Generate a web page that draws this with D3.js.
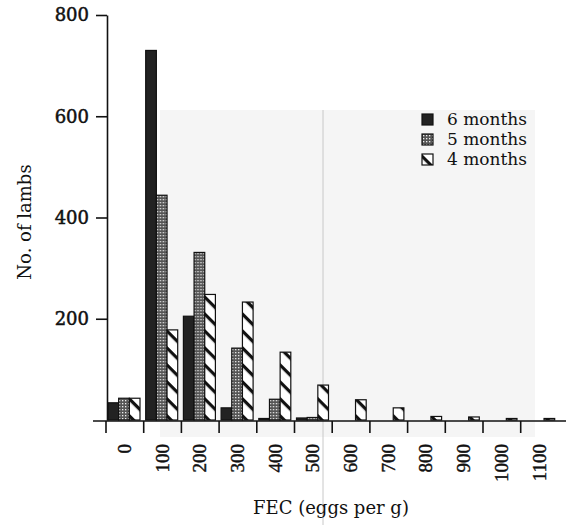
<!DOCTYPE html>
<html>
<head>
<meta charset="utf-8">
<script src="https://cdn.jsdelivr.net/npm/d3@7"></script>
<style>
  body { margin: 0; background: #fff; }
  text { font-family: "DejaVu Serif", serif; fill: #111; }
</style>
</head>
<body>
<div class="visual-container"></div>
<script>
/*************** DATA ***************/
// FEC classes (eggs per g) on the x axis
const fecClasses = ['0','100','200','300','400','500','600','700','800','900','1000','1100'];
const seriesNames = ['6 months', '5 months', '4 months'];
// number of lambs per FEC class, one array per age
const lambs6 = [34, 730, 205, 24, 3, 4, 0, 0, 0, 0, 0, 0];
const lambs5 = [43, 444, 331, 142, 41, 5, 0, 0, 0, 0, 0, 0];
const lambs4 = [43, 178, 248, 233, 134, 69, 40, 24, 7, 6, 3, 3];
const yTicks = [200, 400, 600, 800];

const width = 578;
const height = 525;

const svg = d3.select('.visual-container')
  .append('svg')
  .attr('width', width)
  .attr('height', height);

// patterns for the bar fills
const defs = svg.append('defs');

const checker = defs.append('pattern')
  .attr('id', 'checker')
  .attr('patternUnits', 'userSpaceOnUse')
  .attr('width', 3)
  .attr('height', 3);
checker.append('rect').attr('width', 3).attr('height', 3).attr('fill', '#555');
checker.append('rect').attr('x', 1).attr('y', 1).attr('width', 1.3).attr('height', 1.3).attr('fill', '#eee');

const hatch = defs.append('pattern')
  .attr('id', 'hatch')
  .attr('patternUnits', 'userSpaceOnUse')
  .attr('width', 12)
  .attr('height', 12)
  .attr('patternTransform', 'rotate(45)');
hatch.append('rect').attr('width', 12).attr('height', 12).attr('fill', '#fff');
hatch.append('rect').attr('y', 0).attr('width', 12).attr('height', 3.2).attr('fill', '#111');

const fills = ['#222', 'url(#checker)', 'url(#hatch)'];

// faint scan shading behind the plot
svg.append('rect')
  .attr('x', 160).attr('y', 110)
  .attr('width', 375).attr('height', 327)
  .attr('fill', '#f5f5f5');
svg.append('line')
  .attr('x1', 323).attr('x2', 323)
  .attr('y1', 110).attr('y2', 525)
  .attr('stroke', '#c8c8c8');

/*************** SCALES ***************/
const y = d3.scaleLinear()
  .domain([0, 800])
  .range([420, 15]);

const x0 = d3.scaleBand()
  .domain(fecClasses)
  .range([106, 106 + 12 * 37.7])
  .padding(0);

const x1 = d3.scaleBand()
  .domain(seriesNames)
  .range([2, 34])
  .padding(0);

/*************** BARS ***************/
const rows = fecClasses.map((c, i) => ({
  fec: c,
  values: [lambs6[i], lambs5[i], lambs4[i]]
}));

const groups = svg.selectAll('.group')
  .data(rows)
  .enter()
  .append('g')
  .attr('class', 'group')
  .attr('transform', d => 'translate(' + x0(d.fec) + ',0)');

groups.selectAll('rect')
  .data(d => d.values.map((v, j) => ({ name: seriesNames[j], value: v, j: j })))
  .enter()
  .filter(d => d.value > 0)
  .append('rect')
  .attr('x', d => x1(d.name))
  .attr('y', d => y(d.value))
  .attr('width', x1.bandwidth())
  .attr('height', d => y(0) - y(d.value))
  .attr('fill', d => fills[d.j])
  .attr('stroke', '#111')
  .attr('stroke-width', 1.2);

/*************** AXES ***************/
const yAxis = d3.axisLeft(y)
  .tickValues(yTicks)
  .tickSize(11)
  .tickSizeOuter(0)
  .tickPadding(7);

const yAxisG = svg.append('g')
  .attr('transform', 'translate(107,0)')
  .call(yAxis);
yAxisG.select('.domain').attr('stroke', '#111').attr('stroke-width', 1.6);
yAxisG.selectAll('line').attr('stroke', '#111').attr('stroke-width', 1.6);
yAxisG.selectAll('text')
  .style('font-family', '"DejaVu Serif", serif')
  .style('font-size', '18px')
  .attr('fill', '#111')
  .attr('stroke', '#111')
  .attr('stroke-width', 0.5);

// x axis baseline and ticks at the start of each class
svg.append('line')
  .attr('x1', 93).attr('x2', 566)
  .attr('y1', y(0) + 1).attr('y2', y(0) + 1)
  .attr('stroke', '#111')
  .attr('stroke-width', 1.6);

svg.selectAll('.xtick')
  .data(fecClasses)
  .enter()
  .append('line')
  .attr('class', 'xtick')
  .attr('x1', d => x0(d)).attr('x2', d => x0(d))
  .attr('y1', y(0) + 1).attr('y2', y(0) + 13)
  .attr('stroke', '#111')
  .attr('stroke-width', 1.6);

svg.selectAll('.xlabel')
  .data(fecClasses)
  .enter()
  .append('text')
  .attr('class', 'xlabel')
  .attr('transform', d => 'translate(' + (x0(d) + x0.bandwidth() / 2 + 6) + ',444) rotate(-90)')
  .attr('text-anchor', 'end')
  .style('font-family', '"Liberation Serif", serif')
  .style('font-size', '19px')
  .attr('stroke', '#111')
  .attr('stroke-width', 0.4)
  .text(d => d);

/*************** TITLES ***************/
svg.append('text')
  .attr('transform', 'translate(31,222) rotate(-90)')
  .attr('text-anchor', 'middle')
  .style('font-size', '18px')
  .text('No. of lambs');

svg.append('text')
  .attr('x', 331)
  .attr('y', 514)
  .attr('text-anchor', 'middle')
  .style('font-size', '18px')
  .text('FEC (eggs per g)');

/*************** LEGEND ***************/
const legend = svg.selectAll('.legend')
  .data(seriesNames)
  .enter()
  .append('g')
  .attr('class', 'legend')
  .attr('transform', (d, i) => 'translate(422,' + (114 + i * 20) + ')');

legend.append('rect')
  .attr('width', 11)
  .attr('height', 11)
  .attr('fill', (d, i) => fills[i])
  .attr('stroke', '#111')
  .attr('stroke-width', 1.2);

legend.append('text')
  .attr('x', 25)
  .attr('y', 11)
  .style('font-size', '17px')
  .attr('fill', '#444')
  .text(d => d);
</script>
</body>
</html>
